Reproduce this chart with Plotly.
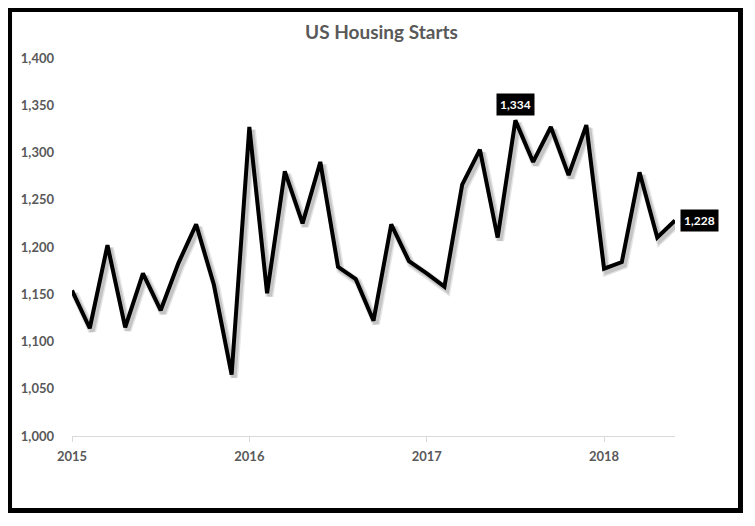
import plotly.graph_objects as go

# ---- data ----
values = [1154, 1114, 1202, 1115, 1172, 1133, 1183, 1224, 1160, 1065,
          1327, 1151, 1280, 1225, 1290, 1179, 1166, 1122, 1224, 1185,
          1172, 1158, 1266, 1303, 1210, 1334, 1290, 1327, 1276, 1329,
          1177, 1184, 1279, 1210, 1228]
x_idx = list(range(len(values)))
year_tick_pos = [0, 10, 20, 30]
year_labels = ["2015", "2016", "2017", "2018"]
y_ticks = [1000, 1050, 1100, 1150, 1200, 1250, 1300, 1350, 1400]
y_ticktext = [f"{v:,}" for v in y_ticks]
title_text = "US Housing Starts"

FONT = "Lato"
GREY = "#595959"

fig = go.Figure()

# soft shadow (same data, drawn on a slightly offset overlay axis pair)
fig.add_trace(go.Scatter(x=x_idx, y=values, mode="lines",
                         line=dict(color="rgba(0,0,0,0.10)", width=8),
                         xaxis="x2", yaxis="y2", hoverinfo="skip",
                         showlegend=False))
fig.add_trace(go.Scatter(x=x_idx, y=values, mode="lines",
                         line=dict(color="rgba(0,0,0,0.14)", width=5),
                         xaxis="x2", yaxis="y2", hoverinfo="skip",
                         showlegend=False))
fig.add_trace(go.Scatter(x=x_idx, y=values, mode="lines",
                         line=dict(color="black", width=4),
                         showlegend=False))

imax = values.index(max(values))
ilast = len(values) - 1
fig.add_annotation(x=x_idx[imax], y=values[imax], text=f"<b>{values[imax]:,}</b>",
                   showarrow=False, yshift=16, bgcolor="black",
                   font=dict(color="white", size=12, family=FONT), borderpad=3)
fig.add_annotation(x=x_idx[ilast], y=values[ilast], text=f"<b>{values[ilast]:,}</b>",
                   showarrow=False, xshift=24, bgcolor="black",
                   font=dict(color="white", size=12, family=FONT), borderpad=3)

# outer black frame
fig.add_shape(type="rect", xref="paper", yref="paper",
              x0=-0.1036, x1=1.1086, y0=-0.197, y1=1.128,
              line=dict(color="black", width=5), layer="above")

fig.update_layout(
    width=747, height=518,
    margin=dict(l=64, r=80, t=50, b=90),
    paper_bgcolor="white", plot_bgcolor="white",
    title=dict(text=title_text, x=0.5, xanchor="center", y=0.9537, yanchor="middle",
               font=dict(family=FONT, size=19, color=GREY, weight="bold")),
    xaxis=dict(range=[0, 34], tickvals=year_tick_pos, ticktext=year_labels,
               showgrid=False, zeroline=False, showline=True, linecolor="#d9d9d9",
               linewidth=1, ticks="outside", ticklen=5, tickcolor="#d9d9d9",
               ticklabelstandoff=3,
               tickfont=dict(family=FONT, size=13, color=GREY, weight="bold")),
    yaxis=dict(range=[1000, 1400], tickvals=y_ticks, ticktext=y_ticktext,
               showgrid=False, zeroline=False, showline=False, ticks="",
               ticklabelstandoff=17,
               tickfont=dict(family=FONT, size=13, color=GREY, weight="bold")),
    xaxis2=dict(range=[-0.14, 33.86], overlaying="x", visible=False),
    yaxis2=dict(range=[1003.2, 1403.2], overlaying="y", visible=False),
)

fig.write_html("out.html")
